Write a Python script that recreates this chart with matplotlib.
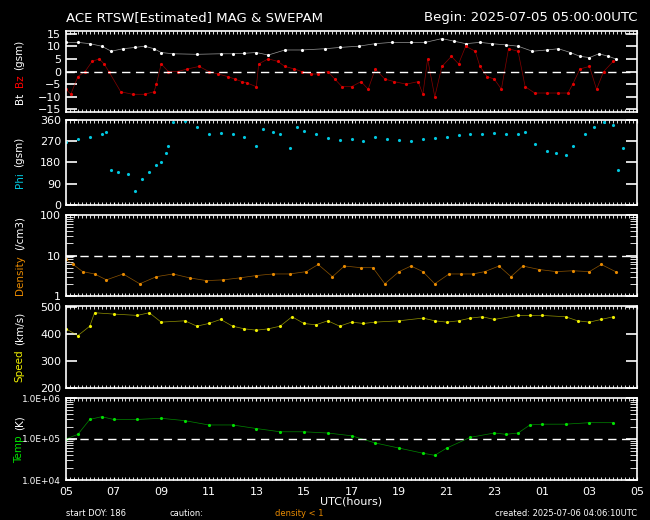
import numpy as np
import matplotlib
matplotlib.use("Agg")
import matplotlib.pyplot as plt
from matplotlib.ticker import MultipleLocator, LogLocator, NullFormatter

# hours since 2025-07-05 05:00 UTC
bt_t = [0, 0.5, 1.0, 1.5, 1.9, 2.4, 2.9, 3.3, 3.7, 4.0, 4.5, 5.5, 6.5, 7.0, 7.5, 8.0, 8.5,
        9.2, 9.9, 10.9, 11.5, 12.3, 13.0, 13.7, 14.5, 15.1, 15.8, 16.3, 16.8, 17.4, 17.9,
        18.5, 19.0, 19.6, 20.2, 20.7, 21.2, 21.6, 22.0, 22.4, 22.8, 23.1]
bt_v = [11.5, 11.5, 11, 10, 8, 9, 9.5, 10, 9, 7.5, 7, 6.8, 7, 7, 7.2, 7.5, 6.5,
        8.5, 8.5, 9, 9.5, 10, 11, 11.5, 11.5, 11.5, 13, 12, 11, 11.5, 11,
        10.5, 10, 8, 8.5, 9, 7.5, 6, 5.5, 7, 6, 5]

bz_t = [0, 0.2, 0.5, 0.8, 1.1, 1.4, 1.6, 1.8, 2.3, 2.8, 3.3, 3.7, 3.8, 4.0, 4.3, 4.7, 5.1,
        5.6, 6.0, 6.4, 6.8, 7.1, 7.4, 7.6, 8.0, 8.1, 8.5, 8.9, 9.2, 9.6, 9.9, 10.3, 10.6,
        11.0, 11.3, 11.6, 12.0, 12.4, 12.7, 13.0, 13.4, 13.8, 14.3, 14.8, 15.0, 15.2, 15.5,
        15.8, 16.2, 16.5, 16.8, 17.2, 17.4, 17.7, 18.0, 18.3, 18.6, 19.0, 19.3, 19.7, 20.2,
        20.7, 21.1, 21.3, 21.6, 22.0, 22.3, 22.6, 23.0]
bz_v = [-7, -9, -2, 0, 4, 5, 3, 0, -8, -9, -9, -8, -5, 3, 0, 0, 1,
        2, 0, -1, -2, -3, -4, -4.5, -6, 3, 5, 4, 2, 1, 0, -1, -1,
        0, -3, -6, -6, -4, -7, 1, -3, -4, -5, -4, -9, 5, -10,
        2, 6, 3, 10, 8, 2, -2, -3, -7, 9, 8, -6, -8.5, -8.5,
        -8.5, -8.5, -5, 1, 2, -7, 0, 4]

phi_t = [0, 0.5, 1.0, 1.5, 1.7, 1.9, 2.2, 2.6, 2.9, 3.2, 3.5, 3.8, 4.0, 4.2, 4.3, 4.5, 5.0,
         5.5, 6.0, 6.5, 7.0, 7.5, 8.0, 8.3, 8.7, 9.0, 9.4, 9.7, 10.0, 10.5, 11.0, 11.5,
         12.0, 12.5, 13.0, 13.5, 14.0, 14.5, 15.0, 15.5, 16.0, 16.5, 17.0, 17.5, 18.0,
         18.5, 19.0, 19.3, 19.7, 20.2, 20.6, 21.0, 21.3, 21.8, 22.2, 22.6, 23.0, 23.2, 23.4]
phi_v = [265, 280, 290, 300, 310, 150, 140, 130, 60, 110, 140, 170, 180, 220, 250, 350, 355,
         330, 300, 305, 300, 290, 250, 320, 310, 300, 240, 330, 315, 300, 285, 275,
         280, 270, 290, 280, 275, 270, 280, 285, 290, 295, 300, 300, 305,
         300, 300, 310, 260, 230, 220, 210, 250, 300, 330, 350, 340, 150, 240]

den_t = [0, 0.3, 0.7, 1.2, 1.7, 2.4, 3.1, 3.8, 4.5, 5.2, 5.9, 6.6, 7.3, 8.0, 8.7, 9.4, 10.1,
         10.6, 11.2, 11.7, 12.4, 12.9, 13.4, 14.0, 14.5, 15.0, 15.5, 16.1, 16.6, 17.1,
         17.6, 18.2, 18.7, 19.2, 19.9, 20.6, 21.3, 22.0, 22.5, 23.1]
den_v = [8, 6, 4, 3.5, 2.5, 3.5, 2, 3, 3.5, 2.8, 2.4, 2.5, 2.8, 3.2, 3.5, 3.5, 4,
         6, 3, 5.5, 5, 5, 2, 4, 5.5, 4, 2, 3.5, 3.5, 3.5,
         4, 5.5, 3, 5.5, 4.5, 4, 4.2, 4, 6, 4]

spd_t = [0, 0.5, 1.0, 1.2, 2.0, 3.0, 3.5, 4.0, 5.0, 5.5, 6.0, 6.5, 7.0, 7.5, 8.0, 8.5, 9.0,
         9.5, 10.0, 10.5, 11.0, 11.5, 12.0, 12.5, 13.0, 14.0, 15.0, 15.5, 16.0, 16.5, 17.0,
         17.5, 18.0, 19.0, 19.5, 20.0, 21.0, 21.5, 22.0, 22.5, 23.0]
spd_v = [420, 395, 430, 480, 475, 470, 480, 445, 450, 430, 440, 455, 430, 420, 415, 420, 430,
         465, 440, 435, 450, 430, 445, 440, 445, 450, 460, 450, 445, 450, 460,
         465, 455, 470, 470, 470, 465, 450, 445, 455, 465]

tmp_t = [0, 0.5, 1.0, 1.5, 2.0, 3.0, 4.0, 5.0, 6.0, 7.0, 8.0, 9.0, 10.0, 11.0, 12.0, 13.0,
         14.0, 15.0, 15.5, 16.0, 17.0, 18.0, 18.5, 19.0, 19.5, 20.0, 21.0, 22.0, 23.0]
tmp_v = [1e5, 1.3e5, 3e5, 3.5e5, 3e5, 3e5, 3.2e5, 2.8e5, 2.2e5, 2.2e5, 1.8e5, 1.5e5, 1.5e5,
         1.4e5, 1.2e5, 8e4, 6e4, 4.5e4, 4e4, 6e4, 1.1e5, 1.4e5, 1.3e5, 1.4e5, 2.2e5,
         2.3e5, 2.3e5, 2.5e5, 2.5e5]

xt = np.arange(0, 25, 2)
xtl = ["%02d" % ((5 + h) % 24) for h in xt]

plt.rcParams["font.family"] = "DejaVu Sans"
fig = plt.figure(figsize=(6.5, 5.2), dpi=100, facecolor="black")

def panel(top_px, bot_px):
    ax = fig.add_axes([66 / 650, 1 - bot_px / 520, 571 / 650, (bot_px - top_px) / 520])
    ax.set_facecolor("black")
    for s in ax.spines.values():
        s.set_color("white"); s.set_linewidth(1.2)
    ax.set_xlim(0, 24)
    ax.xaxis.set_major_locator(MultipleLocator(2))
    ax.xaxis.set_minor_locator(MultipleLocator(1 / 6))
    ax.tick_params(axis="x", which="both", direction="in", top=True, colors="white",
                   length=2, labelbottom=False)
    ax.tick_params(axis="y", which="major", direction="in", right=True, colors="white",
                   length=8, width=1.2, labelsize=8)
    ax.tick_params(axis="y", which="minor", direction="in", right=True, colors="white",
                   length=5)
    return ax

def dots(ax, t, v, c):
    ax.plot(t, v, "-", color=c, lw=0.5, alpha=0.6)
    ax.plot(t, v, ".", color=c, ms=2.5)

fig.canvas.draw()
rend = fig.canvas.get_renderer()

def ylab(parts, top_px, bot_px):
    # parts drawn bottom-to-top, measured so they don't overlap
    objs = [fig.text(0.03, 0, txt, rotation=90, color=c, fontsize=7.5, ha="center", va="bottom")
            for txt, c in parts]
    gap = 5
    hs = [o.get_window_extent(rend).height for o in objs]
    total = sum(hs) + gap * (len(hs) - 1)
    y = (520 - (top_px + bot_px) / 2) - total / 2
    for o, h in zip(objs, hs):
        o.set_y(y / 520)
        y += h + gap

ax1 = panel(31, 112)
dots(ax1, bt_t, bt_v, "white")
dots(ax1, bz_t, bz_v, "#e00000")
ax1.axhline(0, color="white", ls=(0, (6, 4)), lw=1)
ax1.set_ylim(-16, 16)
ax1.set_yticks([-15, -10, -5, 0, 5, 10, 15])
ylab([("Bt", "white"), ("Bz", "red"), ("(gsm)", "white")], 31, 112)

ax2 = panel(120, 205)
ax2.plot(phi_t, phi_v, ".", color="#00c8e0", ms=2.5)
ax2.set_ylim(0, 360)
ax2.set_yticks([0, 90, 180, 270, 360])
ylab([("Phi", "#00c8e0"), ("(gsm)", "white")], 120, 205)

ax3 = panel(215, 296)
dots(ax3, den_t, den_v, "#e88a00")
ax3.set_yscale("log"); ax3.set_ylim(1, 100)
ax3.axhline(10, color="white", ls=(0, (6, 4)), lw=1)
ax3.set_yticks([1, 10, 100]); ax3.set_yticklabels(["1", "10", "100"])
ax3.yaxis.set_minor_locator(LogLocator(subs=np.arange(2, 10)))
ax3.yaxis.set_minor_formatter(NullFormatter())
ylab([("Density", "#e88a00"), ("(/cm3)", "white")], 215, 296)

ax4 = panel(306, 388)
dots(ax4, spd_t, spd_v, "#f0f000")
ax4.set_ylim(200, 505)
ax4.set_yticks([200, 300, 400, 500])
ylab([("Speed", "#f0f000"), ("(km/s)", "white")], 306, 388)

ax5 = panel(398, 480)
dots(ax5, tmp_t, tmp_v, "#00e000")
ax5.set_yscale("log"); ax5.set_ylim(1e4, 1e6)
ax5.axhline(1e5, color="white", ls=(0, (6, 4)), lw=1)
ax5.set_yticks([1e4, 1e5, 1e6]); ax5.set_yticklabels(["1.0E+04", "1.0E+05", "1.0E+06"])
ax5.tick_params(axis="y", labelsize=6.5)
ax5.yaxis.set_minor_locator(LogLocator(subs=np.arange(2, 10)))
ax5.yaxis.set_minor_formatter(NullFormatter())
ax5.set_xticks(xt); ax5.set_xticklabels(xtl)
ax5.tick_params(axis="x", labelbottom=True, labelsize=8, pad=5)
ax5.set_xlabel("UTC(hours)", color="white", fontsize=8, labelpad=0)
ylab([("Temp", "#00e000"), ("(K)", "white")], 398, 480)

fig.text(66 / 650, 1 - 18 / 520, "ACE RTSW[Estimated] MAG & SWEPAM", color="white", fontsize=9.5, va="center")
fig.text(637 / 650, 1 - 18 / 520, "Begin: 2025-07-05 05:00:00UTC", color="white", fontsize=9.5,
         va="center", ha="right")
fig.text(66 / 650, 1 - 513 / 520, "start DOY: 186", color="white", fontsize=6, va="center")
fig.text(170 / 650, 1 - 513 / 520, "caution:", color="white", fontsize=6, va="center")
fig.text(275 / 650, 1 - 513 / 520, "density < 1", color="#e88a00", fontsize=6, va="center")
fig.text(637 / 650, 1 - 513 / 520, "created: 2025-07-06 04:06:10UTC", color="white", fontsize=6,
         va="center", ha="right")

fig.savefig("out.png", dpi=100, facecolor="black")
